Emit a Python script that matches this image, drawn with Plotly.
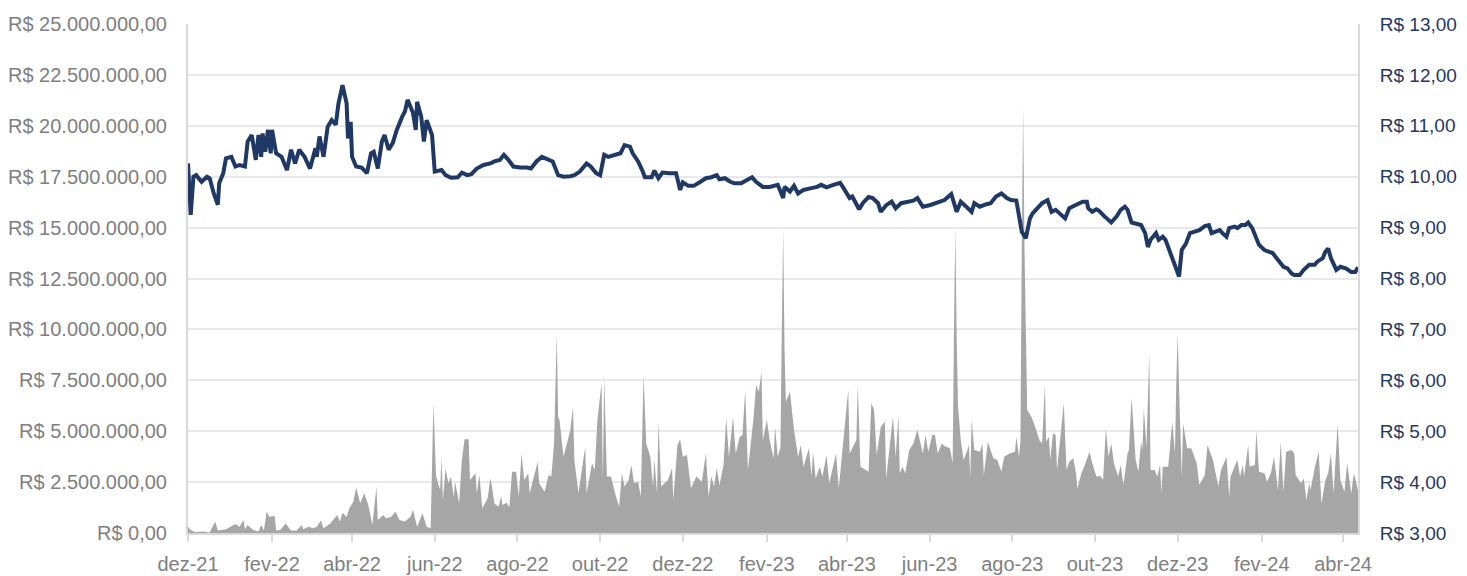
import pandas as pd
import plotly.graph_objects as go

# ---------------- data ----------------
START_DATE = "2021-12-01"   # dates below are given as days after this date

vol_days = [
    0, 2, 5, 11, 16, 20, 22, 28, 35, 38,
    41, 42, 44, 48, 52, 54, 56, 58, 60, 64,
    65, 68, 72, 76, 80, 84, 85, 89, 92, 95,
    98, 100, 105, 107, 110, 112, 114, 117, 119, 122,
    124, 127, 130, 133, 136, 139, 140, 144, 146, 150,
    153, 156, 160, 164, 166, 169, 173, 176, 179, 181,
    183, 186, 187, 188, 190, 192, 194, 196, 197, 200,
    202, 204, 207, 208, 212, 213, 215, 217, 221, 223,
    224, 226, 229, 231, 232, 235, 237, 239, 242, 244,
    246, 248, 251, 252, 255, 258, 259, 263, 266, 268,
    270, 272, 273, 274, 277, 279, 282, 284, 285, 288,
    291, 293, 294, 298, 300, 302, 305, 306, 307, 309,
    312, 315, 318, 320, 322, 325, 327, 329, 332, 334,
    336, 338, 341, 343, 344, 346, 347, 349, 354, 357,
    358, 361, 363, 365, 368, 371, 375, 379, 382, 384,
    386, 388, 390, 392, 395, 397, 399, 402, 404, 407,
    409, 411, 413, 414, 417, 419, 421, 423, 424, 427,
    429, 432, 433, 435, 437, 438, 439, 440, 441, 444,
    447, 450, 452, 454, 456, 458, 460, 461, 463, 466,
    468, 471, 473, 478, 480, 483, 487, 488, 493, 494,
    496, 500, 502, 504, 506, 508, 511, 514, 515, 517,
    520, 522, 524, 525, 527, 529, 532, 535, 538, 542,
    544, 546, 549, 551, 553, 556, 558, 562, 564, 565,
    566, 567, 568, 570, 572, 574, 576, 577, 578, 580,
    584, 586, 587, 590, 594, 597, 600, 602, 606, 610,
    611, 613, 614, 615, 616, 617, 618, 619, 622, 624,
    628, 630, 632, 633, 635, 636, 638, 640, 641, 646,
    648, 650, 653, 655, 656, 659, 661, 665, 667, 670,
    673, 675, 677, 679, 681, 683, 686, 688, 690, 693,
    694, 696, 699, 701, 703, 704, 705, 707, 709, 710,
    713, 715, 717, 718, 719, 723, 726, 728, 729, 730,
    731, 733, 734, 737, 740, 744, 746, 750, 752, 756,
    760, 762, 766, 768, 769, 772, 774, 776, 778, 779,
    782, 783, 787, 788, 790, 794, 796, 799, 801, 804,
    806, 808, 810, 814, 816, 817, 821, 823, 825, 827,
    828, 831, 834, 836, 839, 841, 843, 845, 848, 850,
    853, 855, 858, 860, 861, 863,
]
# traded volume, in millions of R$
vol_millions = [
    0.31, 0.15, 0.05, 0.07, 0.02, 0.56, 0.12, 0.18, 0.44, 0.31,
    0.64, 0.18, 0.39, 0.15, 0.07, 0.39, 0.12, 1.05, 0.80, 0.83,
    0.12, 0.15, 0.47, 0.12, 0.12, 0.39, 0.18, 0.31, 0.23, 0.31,
    0.62, 0.23, 0.47, 0.64, 0.88, 0.56, 1.00, 0.80, 1.22, 1.54,
    2.24, 1.46, 1.95, 1.38, 0.39, 2.28, 0.64, 0.88, 0.72, 0.80,
    1.05, 0.64, 0.56, 0.80, 1.13, 0.31, 0.97, 0.31, 0.23, 6.37,
    2.77, 2.11, 3.75, 1.62, 3.18, 2.44, 2.77, 1.78, 2.52, 1.46,
    3.58, 4.60, 4.60, 2.60, 2.93, 1.95, 2.85, 1.21, 1.70, 2.68,
    2.36, 1.46, 1.29, 1.78, 1.37, 1.49, 1.26, 3.01, 3.01, 1.78,
    3.91, 2.60, 2.93, 1.95, 2.77, 3.50, 2.44, 2.03, 2.85, 2.77,
    4.40, 9.80, 5.71, 5.55, 3.75, 4.32, 5.06, 6.20, 3.58, 1.95,
    3.42, 4.24, 1.95, 3.42, 3.09, 5.55, 7.35, 2.60, 7.68, 2.77,
    2.77, 1.95, 1.29, 2.93, 2.28, 2.60, 3.34, 2.44, 2.52, 1.78,
    7.76, 4.40, 3.75, 2.28, 3.58, 1.95, 5.47, 2.28, 2.60, 3.18,
    1.62, 4.32, 4.60, 3.75, 3.83, 2.20, 2.77, 2.52, 3.91, 1.78,
    2.77, 2.28, 3.18, 2.36, 3.34, 5.63, 3.75, 5.71, 3.91, 4.73,
    4.81, 7.02, 3.09, 3.75, 5.55, 7.27, 6.94, 7.92, 4.57, 5.55,
    4.57, 3.67, 5.22, 3.75, 4.20, 10.0, 14.9, 9.00, 6.45, 6.94,
    5.06, 3.75, 4.32, 3.26, 3.75, 4.16, 2.77, 3.99, 2.68, 3.26,
    2.77, 3.83, 2.44, 3.91, 2.19, 4.24, 7.02, 3.91, 4.57, 7.27,
    3.26, 3.09, 3.01, 6.37, 6.07, 3.83, 5.22, 5.47, 2.68, 3.91,
    5.71, 3.75, 5.79, 2.93, 3.26, 2.93, 4.08, 4.40, 5.06, 3.91,
    4.81, 3.99, 4.81, 4.81, 3.91, 4.40, 4.27, 4.16, 3.42, 10.0,
    15.0, 9.50, 6.20, 4.57, 3.58, 3.91, 4.32, 2.77, 5.55, 4.08,
    3.99, 4.40, 2.85, 4.48, 3.67, 3.58, 3.01, 3.75, 3.91, 3.99,
    4.73, 3.75, 4.50, 14.0, 20.9, 14.0, 10.5, 6.04, 5.71, 5.39,
    4.57, 4.40, 7.27, 4.48, 4.73, 3.60, 4.90, 4.81, 3.09, 6.37,
    3.09, 3.50, 3.67, 2.93, 2.19, 2.93, 3.26, 3.99, 3.42, 2.77,
    2.80, 2.60, 5.14, 3.75, 4.40, 3.42, 2.77, 3.34, 2.36, 3.91,
    4.08, 6.66, 3.58, 3.01, 4.48, 4.08, 6.12, 4.24, 8.82, 3.09,
    3.09, 2.77, 3.34, 1.95, 3.26, 3.26, 5.47, 3.91, 7.50, 9.84,
    7.19, 2.77, 5.39, 4.16, 4.16, 3.42, 2.36, 2.85, 4.32, 3.58,
    2.28, 3.09, 3.75, 1.78, 2.77, 3.26, 3.58, 2.77, 3.34, 2.77,
    4.32, 3.26, 3.34, 5.06, 3.01, 2.93, 2.52, 3.01, 3.75, 2.11,
    4.48, 2.03, 3.99, 4.08, 3.91, 2.85, 2.44, 2.68, 1.62, 2.44,
    2.11, 3.18, 3.99, 1.46, 2.60, 2.93, 3.91, 1.95, 5.38, 2.60,
    2.03, 3.42, 1.95, 2.93, 2.60, 2.11,
]

price_days = [
    0, 2, 4, 6, 10, 14, 16, 19, 22, 23,
    26, 28, 32, 35, 38, 42, 44, 47, 50, 52,
    54, 55, 57, 59, 61, 62, 65, 69, 73, 76,
    79, 82, 86, 90, 94, 95, 97, 100, 103, 106,
    109, 111, 114, 117, 118, 120, 121, 124, 128, 132,
    135, 137, 140, 143, 145, 148, 151, 154, 158, 160,
    162, 166, 168, 169, 172, 174, 176, 180, 182, 187,
    190, 194, 199, 202, 206, 209, 213, 218, 223, 226,
    230, 233, 236, 240, 245, 250, 253, 257, 261, 265,
    269, 273, 277, 282, 285, 289, 294, 297, 301, 304,
    307, 310, 314, 319, 322, 326, 328, 332, 335, 337,
    342, 344, 347, 350, 355, 360, 363, 365, 369, 373,
    378, 382, 386, 390, 392, 396, 400, 403, 408, 412,
    416, 419, 424, 429, 435, 439, 440, 444, 447, 450,
    454, 459, 464, 467, 471, 476, 481, 483, 486, 488,
    490, 493, 495, 498, 502, 505, 509, 511, 515, 519,
    522, 526, 531, 535, 538, 542, 547, 553, 558, 563,
    567, 570, 574, 578, 580, 584, 589, 592, 596, 600,
    604, 607, 611, 613, 615, 618, 621, 623, 627, 630,
    634, 637, 640, 644, 647, 650, 653, 656, 660, 663,
    664, 667, 670, 672, 676, 681, 685, 688, 691, 693,
    696, 699, 703, 706, 708, 710, 714, 716, 719, 721,
    724, 726, 729, 731, 733, 736, 739, 742, 746, 750,
    753, 755, 758, 761, 763, 766, 768, 772, 774, 777,
    780, 782, 785, 788, 790, 794, 798, 800, 803, 805,
    808, 811, 814, 816, 820, 823, 827, 831, 833, 837,
    839, 841, 843, 847, 850, 854, 858, 861, 863,
]
# share price, R$
price_values = [
    10.26, 9.25, 10.00, 10.03, 9.90, 10.00, 9.97, 9.67, 9.45, 9.87,
    10.07, 10.36, 10.39, 10.20, 10.23, 10.20, 10.69, 10.82, 10.33, 10.82,
    10.39, 10.85, 10.49, 10.92, 10.46, 10.92, 10.46, 10.39, 10.13, 10.53,
    10.26, 10.53, 10.39, 10.16, 10.56, 10.39, 10.79, 10.39, 10.98, 11.11,
    11.02, 11.44, 11.80, 11.44, 10.75, 11.08, 10.39, 10.20, 10.18, 10.07,
    10.46, 10.49, 10.16, 10.69, 10.82, 10.53, 10.66, 10.92, 11.18, 11.28,
    11.51, 11.25, 10.92, 11.47, 11.18, 10.69, 11.11, 10.82, 10.10, 10.13,
    10.03, 9.98, 9.99, 10.08, 10.03, 10.05, 10.16, 10.23, 10.26, 10.30,
    10.33, 10.43, 10.34, 10.20, 10.18, 10.18, 10.16, 10.30, 10.39, 10.34,
    10.30, 10.03, 10.00, 10.01, 10.03, 10.10, 10.26, 10.20, 10.07, 10.03,
    10.43, 10.39, 10.43, 10.46, 10.62, 10.59, 10.46, 10.30, 10.13, 9.99,
    9.99, 10.12, 9.97, 10.08, 10.07, 10.07, 9.74, 9.89, 9.82, 9.82,
    9.90, 9.97, 9.99, 10.03, 9.95, 9.97, 9.90, 9.87, 9.87, 9.94,
    9.99, 9.90, 9.80, 9.80, 9.84, 9.58, 9.80, 9.71, 9.82, 9.67,
    9.74, 9.77, 9.80, 9.84, 9.79, 9.84, 9.88, 9.80, 9.67, 9.58,
    9.61, 9.44, 9.36, 9.49, 9.60, 9.58, 9.48, 9.31, 9.44, 9.51,
    9.38, 9.48, 9.51, 9.53, 9.58, 9.41, 9.44, 9.49, 9.54, 9.66,
    9.31, 9.51, 9.41, 9.31, 9.48, 9.41, 9.46, 9.48, 9.61, 9.67,
    9.58, 9.54, 9.53, 9.22, 8.92, 8.79, 9.18, 9.28, 9.38, 9.48,
    9.54, 9.31, 9.35, 9.25, 9.18, 9.38, 9.41, 9.46, 9.51, 9.51,
    9.38, 9.31, 9.36, 9.33, 9.22, 9.10, 9.22, 9.35, 9.41, 9.35,
    9.10, 9.08, 9.05, 8.89, 8.62, 8.76, 8.89, 8.76, 8.82, 8.76,
    8.56, 8.40, 8.20, 8.04, 8.56, 8.68, 8.89, 8.92, 8.95, 9.03,
    9.05, 8.89, 8.92, 8.95, 8.89, 8.82, 8.99, 9.02, 8.99, 9.05,
    9.05, 9.10, 8.99, 8.76, 8.66, 8.56, 8.53, 8.50, 8.40, 8.33,
    8.23, 8.20, 8.10, 8.07, 8.07, 8.17, 8.27, 8.27, 8.33, 8.40,
    8.53, 8.59, 8.40, 8.17, 8.23, 8.20, 8.13, 8.13, 8.22,
]

x_tick_dates = ["2021-12-01", "2022-02-01", "2022-04-01", "2022-06-01", "2022-08-01",
                "2022-10-01", "2022-12-01", "2023-02-01", "2023-04-01", "2023-06-01",
                "2023-08-01", "2023-10-01", "2023-12-01", "2024-02-01", "2024-04-01"]
x_tick_labels = ["dez-21", "fev-22", "abr-22", "jun-22", "ago-22", "out-22", "dez-22",
                 "fev-23", "abr-23", "jun-23", "ago-23", "out-23", "dez-23", "fev-24", "abr-24"]

left_tick_vals = [0, 2.5, 5, 7.5, 10, 12.5, 15, 17.5, 20, 22.5, 25]
left_tick_labels = ["R$ 0,00", "R$ 2.500.000,00", "R$ 5.000.000,00", "R$ 7.500.000,00",
                    "R$ 10.000.000,00", "R$ 12.500.000,00", "R$ 15.000.000,00",
                    "R$ 17.500.000,00", "R$ 20.000.000,00", "R$ 22.500.000,00",
                    "R$ 25.000.000,00"]
right_tick_vals = [3, 4, 5, 6, 7, 8, 9, 10, 11, 12, 13]
right_tick_labels = ["R$ 3,00", "R$ 4,00", "R$ 5,00", "R$ 6,00", "R$ 7,00", "R$ 8,00",
                     "R$ 9,00", "R$ 10,00", "R$ 11,00", "R$ 12,00", "R$ 13,00"]

assert len(vol_days) == len(vol_millions)
assert len(price_days) == len(price_values)

# ---------------- figure ----------------
base = pd.Timestamp(START_DATE)
vol_x = base + pd.to_timedelta(vol_days, unit="D")
price_x = base + pd.to_timedelta(price_days, unit="D")
x_end = base + pd.Timedelta(days=863)

FONT = "Liberation Sans, Arial, sans-serif"
FS = 20
GREY_TXT = "#7F7F7F"
NAVY = "#1F3864"
GRID = "#E9E9E9"
AXIS = "#D9D9D9"

fig = go.Figure()
fig.add_trace(go.Scatter(
    x=vol_x, y=vol_millions, mode="lines", fill="tozeroy",
    line=dict(width=0, color="#A6A6A6"), fillcolor="#A6A6A6",
    name="Volume", yaxis="y", hoverinfo="skip",
))
fig.add_trace(go.Scatter(
    x=price_x, y=price_values, mode="lines",
    line=dict(width=4, color=NAVY), name="Preço", yaxis="y2",
))

# the page body adds an 8 px margin, so the figure is sized to fit the window
fig.update_layout(
    width=1459, height=568,
    margin=dict(l=180, r=109, t=16, b=43, autoexpand=False),
    paper_bgcolor="white", plot_bgcolor="white",
    showlegend=False,
    font=dict(family=FONT, size=FS, color=GREY_TXT),
    xaxis=dict(
        type="date", range=[base, x_end], automargin=False,
        tickmode="array", tickvals=x_tick_dates, ticktext=x_tick_labels,
        showgrid=False, showline=True, linecolor=AXIS, linewidth=2,
        ticks="outside", ticklen=7, tickcolor=AXIS, tickwidth=2,
        ticklabelstandoff=5,
        tickfont=dict(family=FONT, size=FS, color=GREY_TXT),
        zeroline=False,
    ),
    yaxis=dict(
        range=[0, 25], tickmode="array", tickvals=left_tick_vals,
        ticktext=left_tick_labels, automargin=False,
        showgrid=True, gridcolor=GRID, gridwidth=2,
        showline=True, linecolor=AXIS, linewidth=2,
        ticks="", ticklabelstandoff=15, zeroline=False,
        tickfont=dict(family=FONT, size=FS, color=GREY_TXT),
    ),
    yaxis2=dict(
        range=[3, 13], overlaying="y", side="right", automargin=False,
        tickmode="array", tickvals=right_tick_vals, ticktext=right_tick_labels,
        showgrid=False, showline=True, linecolor=AXIS, linewidth=2,
        ticks="", ticklabelstandoff=16, zeroline=False,
        tickfont=dict(family=FONT, size=19, color=NAVY),
    ),
)

fig.write_html("out.html")
